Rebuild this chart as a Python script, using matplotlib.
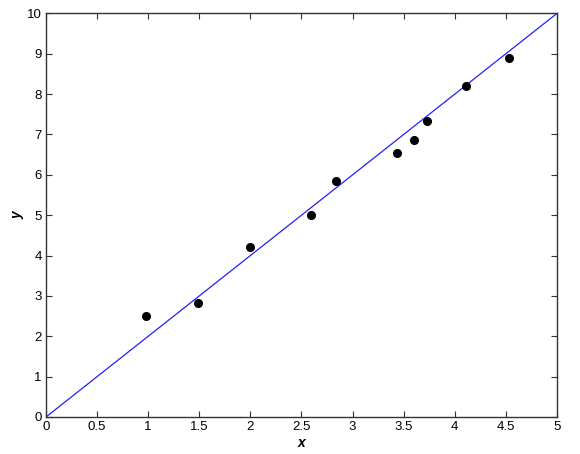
import matplotlib.pyplot as plt
import numpy as np

# data points
x_data = [0.98, 1.49, 2.0, 2.59, 2.84, 3.43, 3.60, 3.73, 4.11, 4.53]
y_data = [2.51, 2.82, 4.22, 5.0, 5.85, 6.54, 6.87, 7.33, 8.20, 8.89]

# fitted line y = 2x
line_x = [0, 5]
line_y = [0, 10]

plt.rcParams['font.family'] = ['Liberation Sans', 'DejaVu Sans']

fig = plt.figure(figsize=(5.8, 4.54), dpi=100)
ax = fig.add_axes([0.0793, 0.0815, 0.881, 0.889])

ax.plot(line_x, line_y, color='#2020ff', linewidth=0.9)
ax.plot(x_data, y_data, 'o', color='black', markersize=5.5)

ax.set_xlim(0, 5)
ax.set_ylim(0, 10)
ax.set_xticks(np.arange(0, 5.01, 0.5))
ax.set_xticklabels(['0', '0.5', '1', '1.5', '2', '2.5', '3', '3.5', '4', '4.5', '5'])
ax.set_yticks(range(0, 11))
ax.tick_params(direction='in', top=True, right=True, length=4, width=0.8,
               labelsize=9.5, color='#333333', pad=3)
for s in ax.spines.values():
    s.set_color('#333333')
    s.set_linewidth(1.0)

ax.set_xlabel('x', fontsize=10, fontweight='bold', fontstyle='italic', labelpad=2)
ax.set_ylabel('y', fontsize=10, fontweight='bold', fontstyle='italic', labelpad=2)

plt.savefig('out.png', dpi=100)
